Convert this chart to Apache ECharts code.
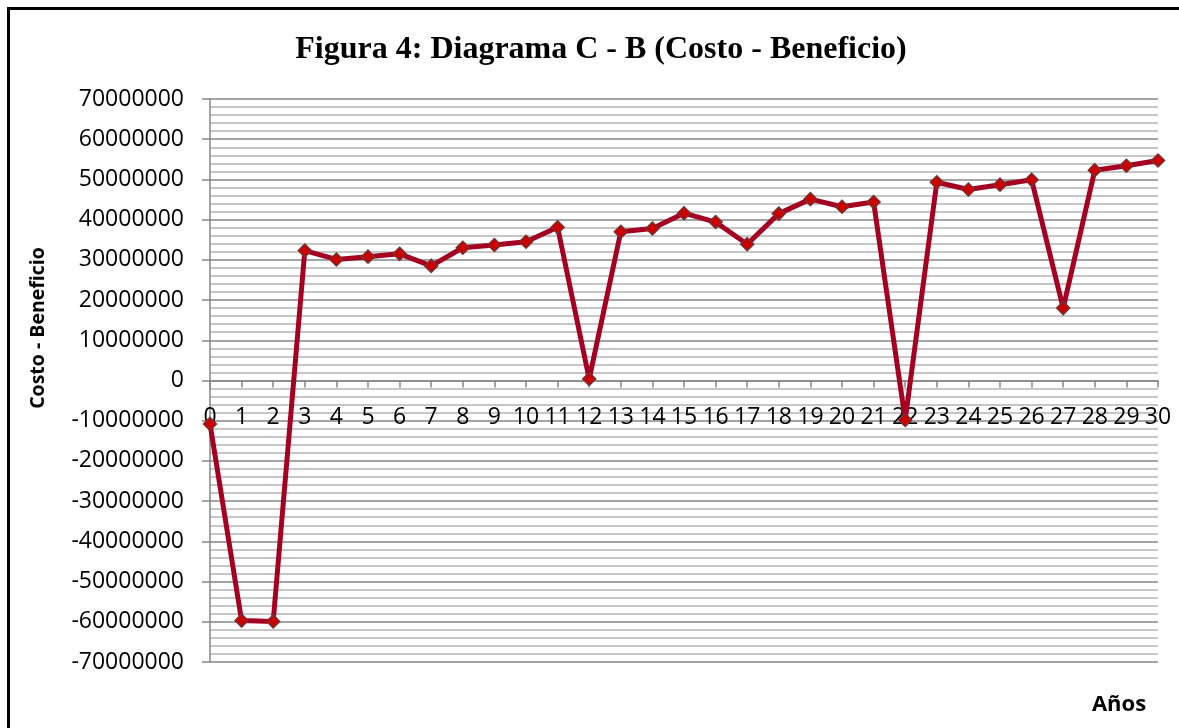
<!DOCTYPE html>
<html>
<head>
<meta charset="utf-8">
<script src="https://cdn.jsdelivr.net/npm/echarts@6/dist/echarts.min.js"></script>
<style>
  html, body { margin: 0; padding: 0; background: #fff; overflow: hidden; }
  #chart { position: absolute; left: 0; top: 0; width: 1179px; height: 728px; }
  .frame { position: absolute; left: 7px; top: 7px; width: 1250px; height: 800px;
           border: 3px solid #000; pointer-events: none; }
</style>
</head>
<body>
<div id="chart"></div>
<div class="frame"></div>
<script>
// años 0..30
const years = Array.from({ length: 31 }, (_, i) => String(i))

// costo - beneficio por año
const values = [
  -10800000, -59700000, -59900000, 32300000, 30100000, 30800000, 31500000,
  28500000, 33000000, 33700000, 34500000, 38100000, 400000, 37000000,
  37800000, 41600000, 39400000, 33900000, 41500000, 45100000, 43200000,
  44400000, -9800000, 49300000, 47500000, 48700000, 49900000, 18000000,
  52300000, 53400000, 54700000
]

const yMin = -70000000
const yMax = 70000000
const yStep = 10000000

const titleText = 'Figura 4: Diagrama C - B (Costo - Beneficio)'
const yName = 'Costo - Beneficio'
const xName = 'Años'

const labelFont = '"Open Sans", sans-serif'

// grid box
const gridTop = 99
const gridBottom = 66
const plotH = 728 - gridTop - gridBottom
// x axis sits on the zero line, not at the bottom of the grid
const zeroOffset = -plotH * (0 - yMin) / (yMax - yMin)

const chart = echarts.init(document.getElementById('chart'))

const option = {
  animation: false,
  backgroundColor: '#fff',
  title: {
    text: titleText,
    left: 596,
    top: 29,
    textAlign: 'center',
    textStyle: {
      fontFamily: '"Liberation Serif", "Times New Roman", serif',
      fontWeight: 'bold',
      fontSize: 32,
      color: '#000'
    }
  },
  graphic: [
    {
      type: 'text',
      x: 38,
      y: 328,
      rotation: Math.PI / 2,
      style: {
        text: yName,
        fontFamily: labelFont,
        fontWeight: 'bold',
        fontSize: 19.5,
        fill: '#000',
        align: 'center',
        verticalAlign: 'middle'
      }
    },
    {
      type: 'text',
      x: 1119,
      y: 705,
      style: {
        text: xName,
        fontFamily: labelFont,
        fontWeight: 'bold',
        fontSize: 22,
        fill: '#000',
        align: 'center',
        verticalAlign: 'middle'
      }
    }
  ],
  grid: {
    left: 210,
    right: 21,
    top: gridTop,
    bottom: gridBottom,
    containLabel: false
  },
  xAxis: {
    type: 'category',
    data: years,
    boundaryGap: false,
    position: 'bottom',
    offset: zeroOffset,
    axisLine: { onZero: false, lineStyle: { color: '#868686', width: 1.5 } },
    axisTick: { show: true, length: 7, alignWithLabel: true, lineStyle: { color: '#868686', width: 1.5 } },
    axisLabel: {
      interval: 0,
      margin: 25,
      fontFamily: labelFont,
      fontSize: 23,
      color: '#000'
    },
    splitLine: { show: false }
  },
  yAxis: {
    type: 'value',
    min: yMin,
    max: yMax,
    interval: yStep,
    axisLine: { show: true, lineStyle: { color: '#868686', width: 1.5 } },
    axisTick: { show: true, length: 8, lineStyle: { color: '#868686', width: 1.5 } },
    axisLabel: {
      margin: 26,
      fontFamily: labelFont,
      fontSize: 23,
      color: '#000',
      formatter: v => String(v)
    },
    splitLine: { show: true, lineStyle: { color: '#868686', width: 1.5 } },
    minorTick: { show: false, splitNumber: 5 },
    minorSplitLine: { show: true, lineStyle: { color: '#b4b4b4', width: 1.5 } }
  },
  series: [{
    type: 'line',
    data: values,
    symbol: 'diamond',
    symbolSize: 13,
    lineStyle: { color: '#a50021', width: 5 },
    itemStyle: { color: '#cc0000', borderColor: '#7a3030', borderWidth: 1.5 },
    z: 5
  }]
}

chart.setOption(option)
</script>
</body>
</html>
